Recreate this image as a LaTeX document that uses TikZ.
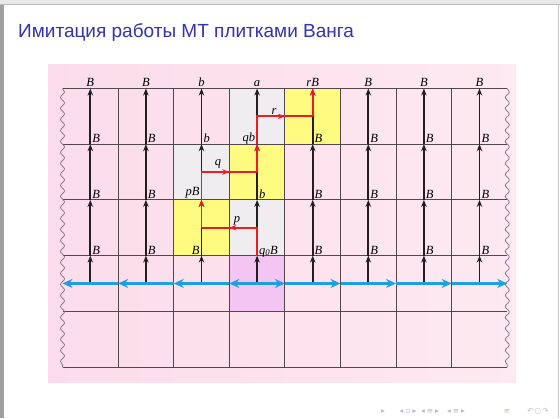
\documentclass[tikz,border=0pt]{standalone}
\usepackage{fontspec}
\setmainfont{Liberation Serif}
\setsansfont{Liberation Sans}
\newfontfamily\simbolos{DejaVu Sans}
\usetikzlibrary{arrows.meta, decorations.pathmorphing}
\definecolor{titulo}{HTML}{3333B3}
\definecolor{rosa}{HTML}{FCDCEA}
\definecolor{rosaclaro}{HTML}{FDE9F1}
\definecolor{rejilla}{HTML}{54464D}
\definecolor{borde}{HTML}{7F6F7A}
\definecolor{gris}{HTML}{EFEDF0}
\definecolor{amarillo}{HTML}{FFFB80}
\definecolor{malva}{HTML}{F4C4F2}
\definecolor{flecha}{HTML}{231F20}
\definecolor{cabeza}{HTML}{EC1C24}
\definecolor{cinta}{HTML}{1BA0E2}
\definecolor{marco}{HTML}{A0A0A0}
\definecolor{banda}{HTML}{E8E8E8}
\definecolor{navega}{HTML}{B4B6D4}

\begin{document}
\begin{tikzpicture}[x=1pt, y=-1pt,
	punta/.tip={Stealth[length=10pt,width=9pt]},
	aguja/.tip={Stealth[length=7pt,width=5.5pt]},
	etiq/.style={font=\fontsize{12.5}{13}\selectfont\itshape, inner sep=0pt},
	negra/.style={flecha, line width=1.8pt, -aguja},
	roja/.style={cabeza, line width=1.8pt},
	azul/.style={cinta, line width=2.4pt},
	nav/.style={inner sep=0pt, text=navega, font=\simbolos\fontsize{7.5}{8}\selectfont}]
	\useasboundingbox (0,0) rectangle (560,418);
	\fill[white] (0,0) rectangle (560,418);
	\fill[banda] (0,0) rectangle (560,4.5);
	\draw[marco!70] (0,4.5) -- (560,4.5);
	\fill[marco] (0,4.5) rectangle (4,418);
	\draw[marco!60] (558.5,4.5) -- (558.5,418);
	\node[anchor=base west, inner sep=0pt, text=titulo, font=\sffamily\fontsize{19}{20}\selectfont] (titulo) at (18,37.5) {Имитация работы МТ плитками Ванга};
	\shade[left color=rosa, right color=rosaclaro] (48,64) rectangle (516,382);
	\foreach \i/\k/\c in {3/2/gris, 4/3/gris, 4/1/gris, 3/3/amarillo, 4/2/amarillo,
	                      5/1/amarillo, 4/4/malva}
		\fill[\c] (6.9+55.6*\i, 32.8+55.7*\k) rectangle ++(55.6,55.7);
	\foreach \k in {0,...,5}
		\draw[rejilla, line width=0.9pt] (62.5, 88.5+55.7*\k) -- (507.3, 88.5+55.7*\k);
	\foreach \i in {1,...,7}
		\draw[rejilla, line width=0.9pt] (62.5+55.6*\i, 88.5) -- ++(0,278.5);
	\foreach \x in {62.5, 507.3}
		\draw[borde, line width=0.7pt, decorate, decoration={snake, amplitude=2pt, segment length=11pt}]
			(\x,88.5) -- (\x,367);
	\foreach \i in {1,...,9}
		\foreach \k in {1,...,4}
			\coordinate (l\i-\k) at (6.9+55.6*\i, 60.65+55.7*\k);
	\foreach \i in {1,...,8} {
		\foreach \k in {0,...,3}
			\coordinate (b\i-\k) at (34.7+55.6*\i, 88.5+55.7*\k);
		\foreach \k in {1,...,4}
			\coordinate (m\i-\k) at (34.7+55.6*\i, 60.65+55.7*\k);
		\draw[negra] (m\i-4) -- (b\i-3);
		\draw[negra] (b\i-3) -- (b\i-2);
		\draw[negra] (b\i-2) -- (b\i-1);
		\draw[negra] (b\i-1) -- (b\i-0);
	}
	\foreach \i/\j in {1/2, 2/3, 3/4}
		\draw[azul, punta-] (l\i-4) -- (l\j-4);
	\draw[azul, punta-punta] (l4-4) -- (l5-4);
	\foreach \i/\j in {5/6, 6/7, 7/8, 8/9}
		\draw[azul, -punta] (l\i-4) -- (l\j-4);
	\draw[roja] (b4-3) -- (m4-3) -- (m3-3);
	\draw[roja, -aguja] (m4-3) -- (l4-3);
	\draw[roja, -aguja] (m3-3) -- (b3-2);
	\draw[roja] (b3-2) -- (m3-2) -- (m4-2);
	\draw[roja, -aguja] (m3-2) -- (l4-2);
	\draw[roja, -aguja] (m4-2) -- (b4-1);
	\draw[roja] (b4-1) -- (m4-1) -- (m5-1);
	\draw[roja, -aguja] (m4-1) -- (l5-1);
	\draw[roja, -aguja] (m5-1) -- (b5-0);
	\foreach \i/\t in {1/B, 2/B, 3/b, 4/a, 5/rB, 6/B, 7/B, 8/B}
		\node[etiq, anchor=base, yshift=2pt] (s\i) at (b\i-0) {\t};
	\foreach \i/\k/\t in {1/1/B, 1/2/B, 1/3/B, 2/1/B, 2/2/B, 2/3/B, 3/1/b, 4/2/b,
	                      4/3/q\textsubscript{0}B, 5/1/B, 5/2/B, 5/3/B, 6/1/B, 6/2/B,
	                      6/3/B, 7/1/B, 7/2/B, 7/3/B, 8/1/B, 8/2/B, 8/3/B}
		\node[etiq, anchor=base west, xshift=1.8pt, yshift=1.5pt] (d\i-\k) at (b\i-\k) {\t};
	\foreach \i/\k/\t/\y in {3/2/pB/4, 3/3/B/1.5, 4/1/qb/2.5}
		\node[etiq, anchor=base east, xshift=-1.8pt, yshift=\y pt] (i\i-\k) at (b\i-\k) {\t};
	\node[etiq, anchor=base] (p) at (237,222.5) {p};
	\node[etiq, anchor=base] (q) at (218,165) {q};
	\node[etiq, anchor=base] (r) at (274,114) {r};
	\foreach \x/\t in {383/▸, 408/◂\kern2pt▫\kern2pt▸, 430/◂\kern2pt≡\kern2pt▸,
	                   456/◂\kern2pt≡\kern2pt▸, 507/≡, 538/↶\kern1pt○\kern1pt↷}
		\node[nav] (n\x) at (\x,411.5) {\t};
\end{tikzpicture}
\end{document}
